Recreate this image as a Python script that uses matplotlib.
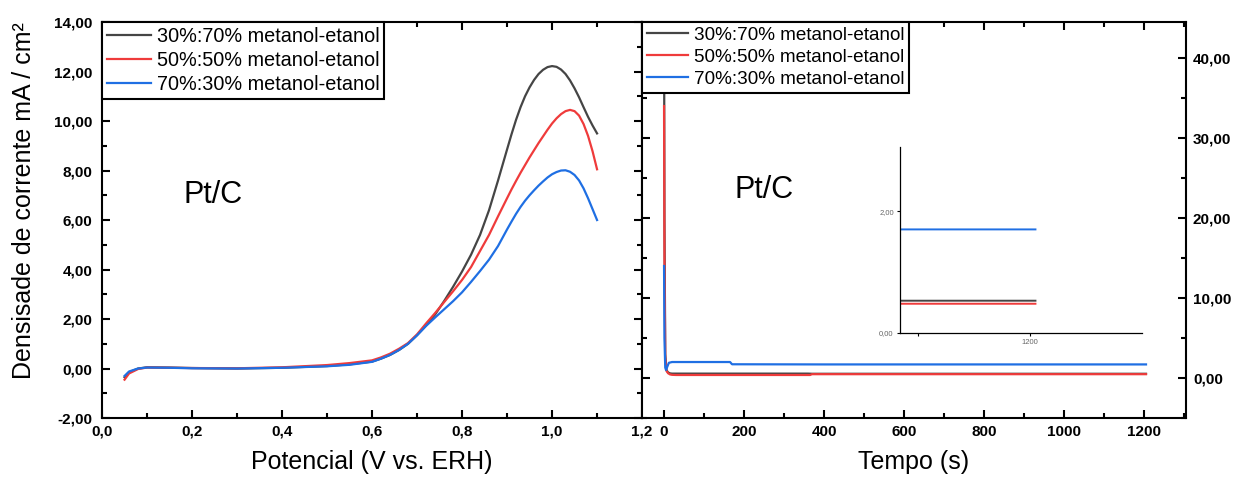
import numpy as np
import matplotlib
matplotlib.use("Agg")
import matplotlib.pyplot as plt
from matplotlib.ticker import FuncFormatter, MultipleLocator

plt.rcParams.update({
    "font.family": ["Liberation Sans", "DejaVu Sans"],
    "xtick.direction": "in",
    "ytick.direction": "in",
    "axes.linewidth": 1.5,
})

labels = ["30%:70% metanol-etanol", "50%:50% metanol-etanol", "70%:30% metanol-etanol"]
colors = ["#454545", "#ef3b3b", "#1f6fe3"]

# --- LSV (left panel) ---
E_v = [0.05, 0.06, 0.08, 0.10, 0.15, 0.20, 0.30, 0.40, 0.50, 0.55,
       0.60, 0.62, 0.64, 0.66, 0.68, 0.70, 0.72, 0.74, 0.76, 0.78,
       0.80, 0.82, 0.84, 0.86, 0.88,
       0.90, 0.91, 0.92, 0.93, 0.94, 0.95, 0.96, 0.97, 0.98, 0.99,
       1.00, 1.01, 1.02, 1.03, 1.04, 1.05, 1.06, 1.07, 1.08, 1.09, 1.10]
j_30 = [-0.35, -0.15, 0.00, 0.05, 0.04, 0.02, 0.00, 0.03, 0.10, 0.17,
        0.28, 0.40, 0.55, 0.75, 1.00, 1.35, 1.74, 2.18, 2.72, 3.30,
        3.92, 4.60, 5.40, 6.40, 7.60,
        8.85, 9.47, 10.05, 10.56, 11.00, 11.36, 11.66, 11.90, 12.07, 12.18,
        12.22, 12.19, 12.08, 11.90, 11.64, 11.32, 10.96, 10.56, 10.17, 9.82, 9.50]
j_50 = [-0.45, -0.20, -0.02, 0.04, 0.03, 0.02, 0.01, 0.05, 0.14, 0.22,
        0.33, 0.45, 0.60, 0.80, 1.03, 1.38, 1.82, 2.24, 2.68, 3.12,
        3.58, 4.10, 4.75, 5.40, 6.15,
        6.88, 7.24, 7.58, 7.91, 8.22, 8.53, 8.82, 9.11, 9.38, 9.65,
        9.90, 10.11, 10.28, 10.40, 10.45, 10.40, 10.22, 9.88, 9.40, 8.78, 8.05]
j_70 = [-0.30, -0.12, 0.00, 0.04, 0.03, 0.01, 0.00, 0.03, 0.09, 0.15,
        0.27, 0.40, 0.55, 0.75, 1.00, 1.34, 1.72, 2.06, 2.39, 2.72,
        3.08, 3.50, 3.94, 4.40, 4.95,
        5.62, 5.94, 6.25, 6.53, 6.78, 7.00, 7.20, 7.39, 7.56, 7.72,
        7.85, 7.94, 8.00, 8.01, 7.95, 7.82, 7.60, 7.28, 6.88, 6.44, 6.00]

# --- cronoamperometria (right panel) ---
t_30 = [0, 1, 3, 6, 10, 15, 20, 30, 60, 120, 250, 360, 370, 600, 900, 1205]
i_30 = [48.0, 20.0, 3.0, 1.0, 0.7, 0.58, 0.55, 0.55, 0.55, 0.55, 0.55, 0.55, 0.53, 0.53, 0.53, 0.53]
t_50 = [0, 1, 3, 6, 10, 15, 20, 30, 60, 120, 250, 365, 370, 600, 900, 1205]
i_50 = [34.0, 15.0, 2.5, 0.9, 0.6, 0.45, 0.40, 0.38, 0.38, 0.38, 0.38, 0.38, 0.48, 0.48, 0.48, 0.48]
t_70 = [0, 1, 3, 5, 8, 12, 20, 60, 165, 170, 400, 800, 1205]
i_70 = [14.0, 5.0, 1.3, 1.0, 1.4, 1.9, 2.0, 2.0, 2.0, 1.72, 1.70, 1.70, 1.70]


def comma(fmt):
    return FuncFormatter(lambda v, p: (fmt % v).replace(".", ","))


def style_ticks(ax):
    ax.tick_params(which="major", length=6)
    ax.tick_params(which="minor", length=3.5)
    for lb in ax.get_xticklabels() + ax.get_yticklabels():
        lb.set_fontsize(11)
        lb.set_fontweight("bold")


def add_legend(ax, size):
    leg = ax.legend(loc="upper left", fontsize=size, frameon=True, fancybox=False,
                    edgecolor="black", framealpha=1, borderaxespad=0, borderpad=0.25,
                    labelspacing=0.25, handlelength=2.2, handletextpad=0.3)
    leg.get_frame().set_linewidth(1.5)
    return leg


fig = plt.figure(figsize=(12.34, 4.79), dpi=100)
ax1 = fig.add_axes([0.0827, 0.1273, 0.4376, 0.8267])
ax2 = fig.add_axes([0.5203, 0.1273, 0.4408, 0.8267])

# left
for j, c, lab in zip([j_30, j_50, j_70], colors, labels):
    ax1.plot(E_v, j, color=c, lw=1.6, label=lab)
ax1.set_xlim(0, 1.2)
ax1.set_ylim(-2, 14)
ax1.xaxis.set_major_locator(MultipleLocator(0.2))
ax1.xaxis.set_minor_locator(MultipleLocator(0.1))
ax1.yaxis.set_major_locator(MultipleLocator(2))
ax1.yaxis.set_minor_locator(MultipleLocator(1))
ax1.xaxis.set_major_formatter(comma("%.1f"))
ax1.yaxis.set_major_formatter(comma("%.2f"))
ax1.tick_params(which="both", top=True, right=True, width=1.5)
ax1.tick_params(axis="y", pad=7)
ax1.tick_params(axis="x", pad=5)
style_ticks(ax1)
ax1.set_xlabel("Potencial (V vs. ERH)", fontsize=18, labelpad=8)
ax1.set_ylabel("Densisade de corrente mA / cm²", fontsize=18, labelpad=13)
ax1.yaxis.label.set_y(0.55)
ax1.text(0.18, 7.0, "Pt/C", fontsize=22, va="center")
add_legend(ax1, 14.3)

# right
for t, i, c, lab in zip([t_30, t_50, t_70], [i_30, i_50, i_70], colors, labels):
    ax2.plot(t, i, color=c, lw=1.6, label=lab)
ax2.set_xlim(-55, 1305)
ax2.set_ylim(-5, 44.5)
ax2.xaxis.set_major_locator(MultipleLocator(200))
ax2.xaxis.set_minor_locator(MultipleLocator(100))
ax2.yaxis.set_major_locator(MultipleLocator(10))
ax2.yaxis.set_minor_locator(MultipleLocator(5))
ax2.yaxis.set_major_formatter(comma("%.2f"))
ax2.yaxis.tick_right()
ax2.tick_params(which="both", top=True, left=True, right=True, labelleft=False,
                labelright=True, width=1.5)
ax2.tick_params(axis="y", pad=5)
ax2.tick_params(axis="x", pad=5)
style_ticks(ax2)
ax2.set_xlabel("Tempo (s)", fontsize=18, labelpad=8)
ax2.text(175, 23.5, "Pt/C", fontsize=22, va="center")
add_legend(ax2, 13.6)

# inset (zoom on the final values)
axin = fig.add_axes([0.7293, 0.3048, 0.196, 0.388])
for t, i, c in zip([t_30, t_50, t_70], [i_30, i_50, i_70], colors):
    axin.plot(t, i, color=c, lw=1.4)
axin.set_xlim(1084, 1300)
axin.set_ylim(0, 3.05)
axin.spines["top"].set_visible(False)
axin.spines["right"].set_visible(False)
axin.spines["left"].set_linewidth(0.9)
axin.spines["bottom"].set_linewidth(0.9)
axin.set_xticks([1200])
axin.set_xticks([1100], minor=True)
axin.set_yticks([0, 2])
axin.yaxis.set_major_formatter(comma("%.2f"))
axin.tick_params(which="both", direction="out", length=2.5, width=0.8, labelsize=5.5,
                 labelcolor="#666666", pad=2)

fig.savefig("out.png", dpi=100)
